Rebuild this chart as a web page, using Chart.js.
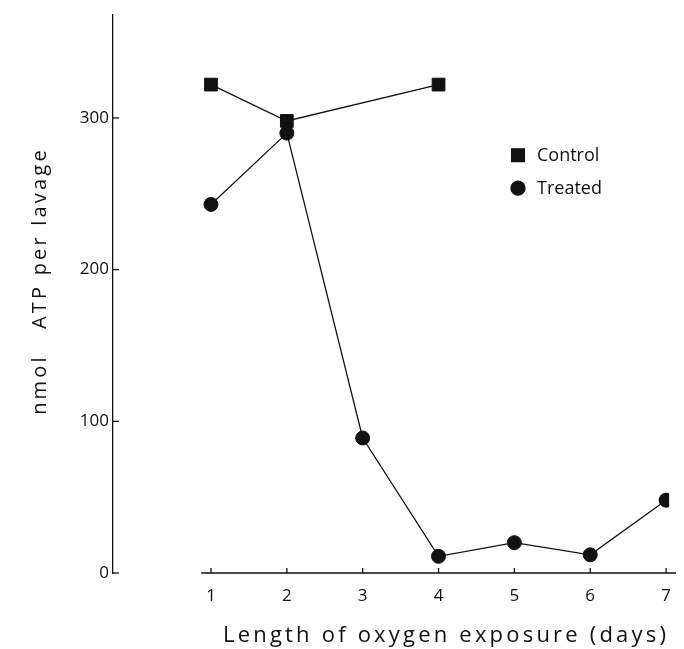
<!DOCTYPE html>
<html>
<head>
<meta charset="utf-8">
<script src="https://cdn.jsdelivr.net/npm/chart.js@4.4.1/dist/chart.umd.min.js"></script>
<style>
  html, body { margin: 0; padding: 0; background: #ffffff; }
  #wrap { position: relative; width: 684px; height: 649px; }
</style>
</head>
<body>
<div id="wrap"><canvas id="c" width="684" height="649"></canvas></div>
<script>
// ---- data ----
const days = [1, 2, 3, 4, 5, 6, 7];
const controlDays = [1, 2, 4];
const controlValues = [322, 298, 322];
const treatedValues = [243, 290, 89, 11, 20, 12, 48];
const xTickValues = [1, 2, 3, 4, 5, 6, 7];
const yTickValues = [0, 100, 200, 300];
const seriesNames = ['Control', 'Treated'];
const xTitle = 'Length of oxygen exposure (days)';
const yTitle = '   nmol   ATP per lavage';

const INK = '#111111';
const FONT = "'Open Sans', 'DejaVu Sans', sans-serif";

const controlPoints = controlDays.map((d, i) => ({ x: d, y: controlValues[i] }));
const treatedPoints = days.map((d, i) => ({ x: d, y: treatedValues[i] }));

const axisPlugin = {
  id: 'axisPlugin',
  beforeDraw(chart) {
    chart.ctx.letterSpacing = '0px';
  },
  afterDatasetsDraw(chart) {
    // titles are drawn after datasets (grid.z = 1), give them the wide plotter spacing
    chart.ctx.letterSpacing = '3.2px';
  },
  afterDraw(chart) {
    const { ctx, chartArea, scales } = chart;
    const x = scales.x, y = scales.y;
    ctx.save();
    ctx.letterSpacing = '0px';
    ctx.strokeStyle = INK;
    ctx.lineWidth = 1.3;
    // x axis line (detached from y axis)
    const yb = chartArea.bottom;
    ctx.beginPath();
    ctx.moveTo(x.getPixelForValue(0.87), yb);
    ctx.lineTo(x.getPixelForValue(7.13), yb);
    ctx.stroke();
    // inward tick marks
    x.ticks.forEach(t => {
      const px = x.getPixelForValue(t.value);
      ctx.beginPath(); ctx.moveTo(px, yb); ctx.lineTo(px, yb - 5); ctx.stroke();
    });
    y.ticks.forEach(t => {
      const py = y.getPixelForValue(t.value);
      ctx.beginPath(); ctx.moveTo(chartArea.left, py); ctx.lineTo(chartArea.left + 6, py); ctx.stroke();
    });
    // legend
    const lx = chartArea.left + 405;
    const ly0 = chartArea.top + 141;
    const gap = 33;
    ctx.letterSpacing = '0px';
    ctx.font = '400 18px ' + FONT;
    ctx.textBaseline = 'middle';
    ctx.textAlign = 'left';
    chart.data.datasets.forEach((ds, i) => {
      const yy = ly0 + i * gap;
      ctx.fillStyle = INK;
      Chart.helpers.drawPoint(ctx, {
        pointStyle: ds.pointStyle, radius: ds.pointRadius, rotation: 0, borderWidth: 1
      }, lx, yy);
      ctx.fillStyle = INK;
      ctx.fillText(ds.label, lx + 19, yy + 1);
    });
    ctx.restore();
    ctx.letterSpacing = '0px';
  }
};

const hiddenGrid = { display: true, drawOnChartArea: false, drawTicks: false, color: 'rgba(0,0,0,0)', z: 1 };

new Chart(document.getElementById('c'), {
  type: 'line',
  data: {
    datasets: [
      {
        label: seriesNames[0],
        data: controlPoints,
        borderColor: INK,
        backgroundColor: INK,
        borderWidth: 1.3,
        pointStyle: 'rect',
        pointRadius: 9,
        pointBorderWidth: 1,
        pointBackgroundColor: INK,
        pointBorderColor: INK,
        tension: 0
      },
      {
        label: seriesNames[1],
        data: treatedPoints,
        borderColor: INK,
        backgroundColor: INK,
        borderWidth: 1.3,
        pointStyle: 'circle',
        pointRadius: 7,
        pointBorderWidth: 1,
        pointBackgroundColor: INK,
        pointBorderColor: INK,
        tension: 0
      }
    ]
  },
  options: {
    responsive: false,
    animation: false,
    devicePixelRatio: 1,
    layout: { padding: { left: 20, top: 13, right: 11, bottom: 0 } },
    plugins: { legend: { display: false }, tooltip: { enabled: false } },
    scales: {
      x: {
        type: 'linear',
        min: -0.292,
        max: 7.04,
        afterBuildTicks: s => { s.ticks = xTickValues.map(v => ({ value: v })); },
        afterFit: s => { s.height = 76; },
        grid: hiddenGrid,
        border: { display: false },
        ticks: {
          color: INK,
          padding: 13,
          maxRotation: 0,
          font: { family: FONT, size: 17, weight: '400' },
          callback: v => String(v)
        },
        title: {
          display: true,
          text: xTitle,
          align: 'end',
          color: INK,
          padding: { top: 0, bottom: 0 },
          font: { family: FONT, size: 22, weight: '400' }
        }
      },
      y: {
        type: 'linear',
        min: 0,
        max: 368.4,
        afterBuildTicks: s => { s.ticks = yTickValues.map(v => ({ value: v })); },
        afterFit: s => { s.width = 93; },
        grid: hiddenGrid,
        border: { display: true, color: INK, width: 1.3, z: 2 },
        ticks: {
          color: INK,
          padding: 4,
          font: { family: FONT, size: 17, weight: '400' },
          callback: v => String(v)
        },
        title: {
          display: true,
          text: yTitle,
          align: 'center',
          color: INK,
          padding: { top: 8, bottom: 0 },
          font: { family: FONT, size: 20, weight: '400' }
        }
      }
    }
  },
  plugins: [axisPlugin]
});
</script>
</body>
</html>
